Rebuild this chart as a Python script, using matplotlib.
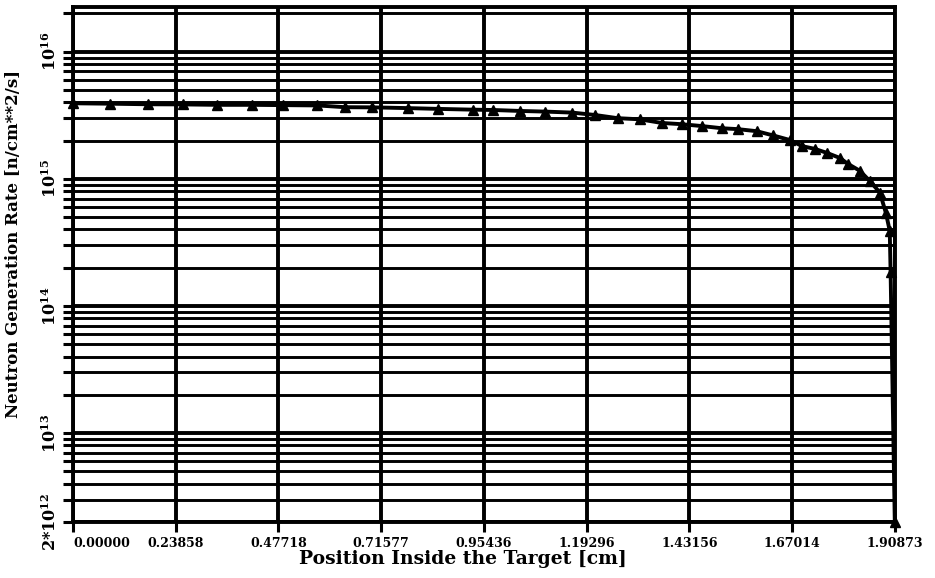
import matplotlib
matplotlib.use("Agg")
import matplotlib.pyplot as plt
from matplotlib.ticker import LogLocator, FixedLocator, NullFormatter

# neutron generation rate along the target depth
position_cm = [0.000, 0.086, 0.174, 0.255, 0.334, 0.416, 0.488, 0.567,
               0.632, 0.694, 0.778, 0.848, 0.929, 0.975, 1.038, 1.096,
               1.159, 1.212, 1.265, 1.316, 1.368, 1.414, 1.461, 1.507,
               1.544, 1.588, 1.625, 1.665, 1.693, 1.723, 1.751, 1.781,
               1.800, 1.827, 1.851, 1.874, 1.888, 1.897, 1.899, 1.90873]
rate = [3.93e15, 3.90e15, 3.86e15, 3.85e15, 3.82e15, 3.82e15, 3.80e15, 3.78e15,
        3.66e15, 3.65e15, 3.60e15, 3.55e15, 3.50e15, 3.48e15, 3.42e15, 3.38e15,
        3.32e15, 3.18e15, 3.00e15, 2.94e15, 2.75e15, 2.69e15, 2.60e15, 2.50e15,
        2.46e15, 2.37e15, 2.20e15, 2.02e15, 1.81e15, 1.72e15, 1.60e15, 1.46e15,
        1.31e15, 1.16e15, 9.6e14, 7.8e14, 5.4e14, 3.9e14, 1.85e14, 2.0e12]

x_ticks = [i * 1.90873 / 8 for i in range(9)]
x_labels = ["0.00000", "0.23858", "0.47718", "0.71577", "0.95436",
            "1.19296", "1.43156", "1.67014", "1.90873"]
y_ticks = [2e12, 1e13, 1e14, 1e15, 1e16]
y_labels = [r"$\mathbf{2{*}10^{12}}$", r"$\mathbf{10^{13}}$", r"$\mathbf{10^{14}}$",
            r"$\mathbf{10^{15}}$", r"$\mathbf{10^{16}}$"]

plt.rcParams["font.family"] = "DejaVu Serif"
plt.rcParams["font.weight"] = "bold"
plt.rcParams["mathtext.fontset"] = "dejavuserif"

fig = plt.figure(figsize=(9.35, 5.78), dpi=100)
ax = fig.add_axes([0.078, 0.097, 0.879, 0.891])

ax.set_yscale("log")
ax.set_xlim(0, 1.90873)
ax.set_ylim(2e12, 2.25e16)

ax.plot(position_cm, rate, color="black", lw=2.8, marker="^", ms=7,
        clip_on=False, zorder=5)

ax.xaxis.set_major_locator(FixedLocator(x_ticks))
ax.set_xticklabels(x_labels, fontsize=9, fontweight="bold")
ax.get_xticklabels()[0].set_horizontalalignment("left")

ax.yaxis.set_major_locator(FixedLocator(y_ticks))
ax.set_yticklabels(y_labels, fontsize=11.5, rotation=90, va="center")
ax.yaxis.set_minor_locator(LogLocator(base=10, subs=range(2, 10), numticks=20))
ax.yaxis.set_minor_formatter(NullFormatter())

ax.grid(True, which="major", color="black", lw=2.8)
ax.grid(True, which="minor", axis="y", color="black", lw=2.1)
ax.tick_params(axis="both", which="both", direction="out", length=7,
               width=2.2, color="black")
ax.tick_params(axis="x", pad=4)
ax.tick_params(axis="y", pad=2)

for spine in ax.spines.values():
    spine.set_linewidth(2.8)

ax.set_xlabel("Position Inside the Target [cm]", fontsize=13.5, fontweight="bold",
              labelpad=2)
ax.xaxis.set_label_coords(0.474, -0.055)
ax.set_ylabel("Neutron Generation Rate [n/cm**2/s]", fontsize=12,
              fontweight="bold")
ax.yaxis.set_label_coords(-0.062, 0.54)

fig.savefig("out.png", dpi=100)
